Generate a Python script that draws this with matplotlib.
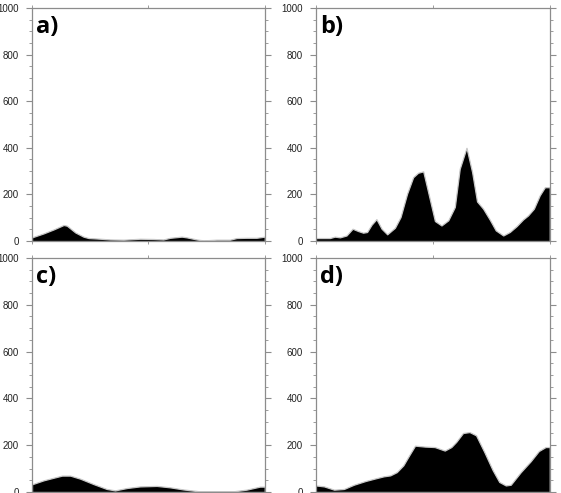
import numpy as np
import matplotlib
matplotlib.use("Agg")
import matplotlib.pyplot as plt
from matplotlib.ticker import MultipleLocator

# sample positions (0-100 along the period) and values
xa = [0, 5, 9.3, 13.6, 15, 18.6, 22.1, 24.3, 27.9, 33.6, 39.3, 46.4, 52.1, 56.4,
      59.3, 64.3, 66.4, 70.7, 73.6, 79.3, 85, 87.9, 92.1, 96.4, 100]
ya = [16, 33, 50, 69, 66, 37, 19, 13, 11, 7, 6, 10, 9, 7,
      14, 19, 16, 7, 3, 6, 6, 13, 14, 14, 19]

xb = [0, 6, 8.1, 10.3, 13.1, 15.7, 18.1, 20.2, 21.9, 23.8, 25.9, 28.1, 30.5, 33.8,
      36.2, 39, 41.6, 43.7, 45.9, 48, 50.9, 53.7, 56.6, 59.4, 61.5, 64.4, 66.8,
      68.9, 71.5, 74.4, 76.9, 80.1, 82.9, 85.8, 88.6, 90.7, 93.2, 95.7, 97.9, 100]
yb = [13, 13, 19, 16, 24, 53, 43, 36, 39, 70, 94, 53, 29, 57,
      103, 203, 274, 293, 299, 210, 86, 67, 89, 146, 310, 400, 296,
      170, 139, 91, 46, 24, 39, 64, 93, 110, 139, 196, 231, 231]

xc = [0, 5, 9.3, 12.9, 16.4, 20.7, 26.4, 32.1, 35.7, 40.7, 46.4, 53.6, 59.3, 65,
      72.1, 79.3, 86.4, 92.1, 97.9, 100]
yc = [33, 50, 61, 70, 70, 57, 34, 13, 7, 17, 24, 26, 20, 11,
      3, 3, 3, 10, 23, 23]

xd = [0, 3.5, 7.8, 12, 16.2, 21.2, 25.4, 29, 31.8, 34.6, 37.4, 39.5, 42.4, 46.6,
      50.8, 55.1, 57.9, 60, 62.9, 65.7, 68.5, 72, 75.6, 78.4, 81.2, 83.3, 87.6,
      91.8, 95.3, 98.2, 100]
yd = [28, 24, 10, 13, 31, 47, 58, 67, 71, 85, 114, 150, 198, 194,
      192, 177, 192, 214, 252, 256, 242, 171, 93, 43, 28, 31, 85,
      131, 175, 192, 192]

labels = ["a)", "b)", "c)", "d)"]
series = [(xa, ya), (xb, yb), (xc, yc), (xd, yd)]

# axes boxes in figure fractions [left, bottom, width, height]
boxes = [[0.057, 0.511, 0.415, 0.473],
         [0.563, 0.511, 0.417, 0.473],
         [0.057, 0.002, 0.415, 0.475],
         [0.563, 0.002, 0.417, 0.475]]

frame = "#8c8c8c"

fig = plt.figure(figsize=(5.61, 4.93), dpi=100)

for box, lab, (x, y) in zip(boxes, labels, series):
    ax = fig.add_axes(box)
    ax.fill_between(x, 0, y, facecolor="black", edgecolor="#c8c8c8", linewidth=0.9)
    ax.set_xlim(0, 100)
    ax.set_ylim(0, 1000)
    ax.yaxis.set_major_locator(MultipleLocator(200))
    ax.yaxis.set_minor_locator(MultipleLocator(50))
    ax.set_xticks([0, 50, 100])
    ax.set_xticklabels([])
    ax.tick_params(axis="y", which="major", direction="out", length=4.5, width=0.8,
                   color=frame, labelsize=7, labelcolor="#222222", pad=5,
                   right=True, labelright=False)
    ax.tick_params(axis="y", which="minor", direction="out", length=2.2, width=0.6,
                   color=frame, right=True)
    ax.tick_params(axis="x", which="major", direction="out", length=2, width=0.6,
                   color=frame, top=True)
    for lbl in ax.get_yticklabels():
        lbl.set_fontfamily("Liberation Sans")
    for s in ax.spines.values():
        s.set_color(frame)
        s.set_linewidth(0.9)
    ax.text(0.018, 0.97, lab, transform=ax.transAxes, ha="left", va="top",
            fontsize=17, fontweight="bold", family="Open Sans", color="black")

fig.savefig("out.png", dpi=100)
